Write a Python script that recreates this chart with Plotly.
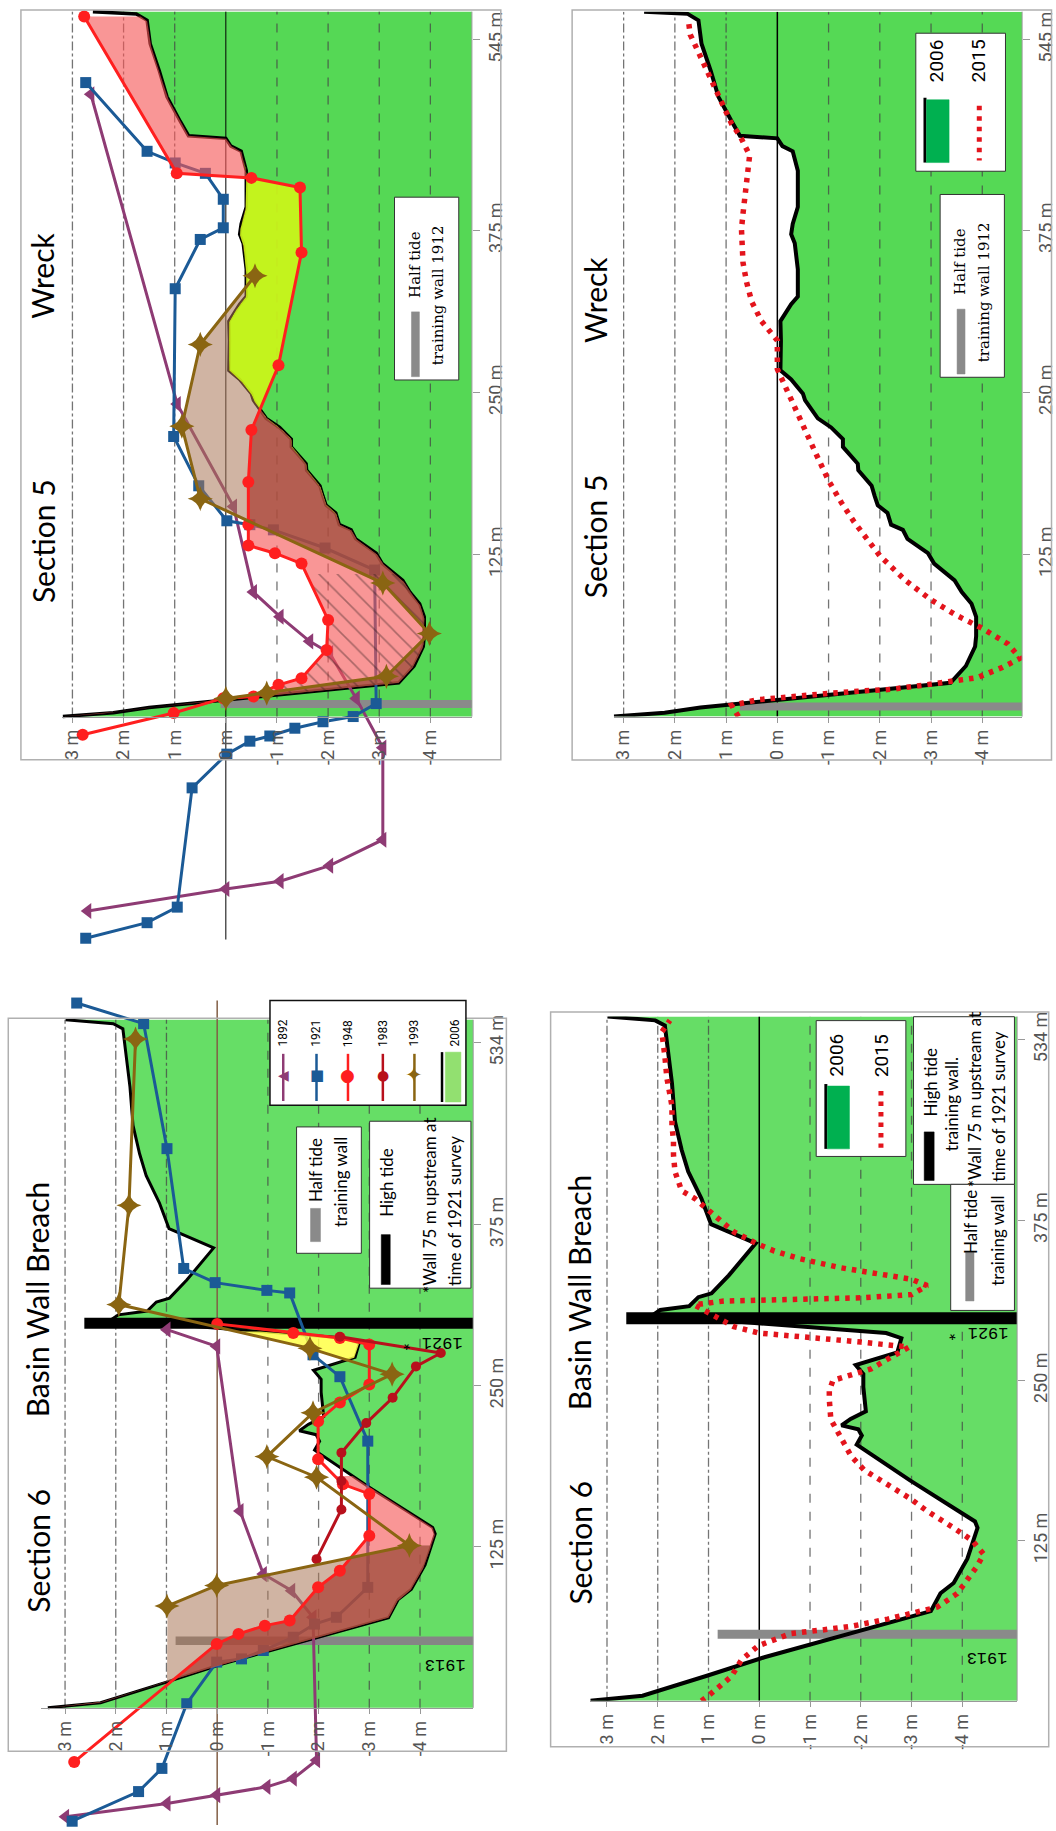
import numpy as np
import plotly.graph_objects as go

W, H = 1056, 1831

# ---------------------------------------------------------------------------
# Section 5 (Wreck) – distance along the section (m) and bed elevation (m)
# ---------------------------------------------------------------------------
S5_DIST_2006 = [0, 3, 7, 13, 26, 39, 54, 62, 77, 87, 96, 105, 118, 126, 137, 144, 148, 157, 163, 170,
                178, 190, 195, 208, 214, 223, 230, 244, 249, 260, 267, 290, 305, 318, 324, 345, 365, 372,
                380, 393, 421, 436, 440, 446, 448, 459, 478, 498, 519, 537, 542, 543.7]
S5_ELEV_2006 = [3.19, 2.2, 1.5, 0.0, -3.38, -3.68, -3.86, -3.88, -3.88, -3.79, -3.6, -3.46, -3.06, -2.94,
                -2.54, -2.45, -2.22, -2.15, -1.96, -1.9, -1.84, -1.58, -1.57, -1.28, -1.28, -1.05, -0.79,
                -0.54, -0.5, -0.27, -0.06, -0.07, -0.06, -0.27, -0.4, -0.4, -0.34, -0.27, -0.3, -0.4, -0.4,
                -0.3, -0.1, 0.0, 0.73, 0.89, 1.15, 1.3, 1.48, 1.54, 1.75, 2.6]

S5_DIST_2015 = [0, 8.6, 13, 15.7, 17.6, 19.5, 21, 24.3, 27, 30, 38, 45, 56, 68, 78, 90, 105, 124, 137, 150,
                165, 182, 203, 225, 248, 268, 290, 298, 305, 320, 335, 350, 365, 376, 388, 403, 418, 433,
                440, 448, 457, 474, 485, 502, 515, 526, 538]
S5_ELEV_2015 = [0.76, 0.89, 0.38, -0.27, -0.92, -1.57, -2.22, -2.87, -3.4, -3.9, -4.4, -4.74, -4.5, -4.0,
                -3.5, -3.0, -2.5, -2.0, -1.75, -1.5, -1.25, -1.0, -0.75, -0.5, -0.25, 0.0, 0.0, 0.15, 0.31,
                0.5, 0.6, 0.67, 0.7, 0.7, 0.67, 0.63, 0.58, 0.54, 0.63, 0.73, 0.89, 1.09, 1.22, 1.41, 1.57,
                1.7, 1.74]

S5_DIST_1892 = [480, 241, 162, 96, 77, 58, 49, 14, -24, -95, -115, -127, -133, -150]
S5_ELEV_1892 = [2.64, 0.95, -0.15, -0.54, -1.06, -1.64, -2.03, -2.55, -3.07, -3.07, -2.03, -1.06, 0.0, 2.7]

S5_DIST_1921 = [489, 436, 427, 419, 399, 377, 368, 330, 216, 178, 151, 148, 144, 130, 113, 10, 0, -4, -9,
                -15, -19, -29, -55, -147, -159, -171]
S5_ELEV_1921 = [2.74, 1.54, 0.99, 0.40, 0.05, 0.05, 0.50, 0.99, 1.02, 0.53, -0.02, -0.47, -0.93, -1.94,
                -2.91, -2.94, -2.49, -1.90, -1.35, -0.86, -0.47, -0.02, 0.66, 0.95, 1.54, 2.74]

S5_DIST_1948 = [540, 419, 415.5, 408, 358, 271, 221, 181, 148, 132, 126, 118, 74.5, 51.4, 29.6, 24.5,
                15.5, 14.2, 2.7, -14]
S5_ELEV_1948 = [2.77, 0.96, -0.50, -1.45, -1.48, -1.03, -0.50, -0.44, -0.44, -0.44, -0.96, -1.48, -2.0,
                -1.97, -1.48, -1.03, -0.54, 0.05, 1.02, 2.8]

S5_DIST_1993 = [340, 287, 224, 168, 103, 64, 31, 18, 14]
S5_ELEV_1993 = [-0.57, 0.50, 0.86, 0.50, -3.07, -3.98, -3.14, -0.8, 0.0]

# ---------------------------------------------------------------------------
# Section 6 (Basin Wall Breach)
# ---------------------------------------------------------------------------
S6_DIST_2006 = [0, 4, 20, 34, 70, 84, 92, 111, 135, 140, 172, 200, 207, 212, 215, 220, 226, 245, 255, 262,
                272, 283, 287, 290, 301, 305, 308, 315, 318, 332, 357, 372, 377, 392, 413, 430, 452, 482,
                527, 531, 534]
S6_ELEV_2006 = [3.34, 2.3, 1.0, -0.1, -3.38, -3.57, -3.83, -4.1, -4.3, -4.25, -2.97, -1.92, -2.02, -1.95,
                -1.62, -1.8, -2.1, -2.05, -2.05, -1.9, -2.72, -2.8, -2.5, -1.5, 2.1, 1.95, 1.38, 1.2, 0.94,
                0.6, 0.07, 0.95, 1.0, 1.14, 1.4, 1.53, 1.66, 1.72, 1.86, 2.05, 2.99]

S6_DIST_2015 = [0, 5, 19, 32, 43, 52.6, 55.2, 58.2, 63.8, 73.2, 83.7, 105, 114.5, 125, 135, 148, 157.7, 169,
                180, 191, 206, 219.6, 235, 242, 250, 254, 259, 268, 276, 280, 283, 287, 292, 302, 309, 312,
                313, 314.5, 317, 324, 329, 333, 338, 345, 351, 356.6, 366, 372, 383, 392, 398, 413, 426,
                437, 449, 464, 473, 486, 503, 512, 522, 531]
S6_ELEV_2015 = [1.14, 0.97, 0.55, 0.35, 0.02, -0.63, -1.22, -1.81, -2.53, -3.51, -3.9, -4.29, -4.42, -4.2,
                -3.83, -3.31, -2.98, -2.53, -2.07, -1.81, -1.61, -1.41, -1.38, -1.38, -1.45, -1.75, -2.2,
                -2.59, -2.95, -2.0, -1.0, 0.0, 0.5, 0.94, 1.28, 0.7, -0.5, -2.0, -3.0, -3.31, -3.0, -2.4,
                -1.6, -0.8, -0.3, 0.04, 0.5, 0.68, 1.0, 1.27, 1.53, 1.66, 1.69, 1.69, 1.72, 1.72, 1.76,
                1.82, 1.86, 1.89, 1.92, 1.76]

S6_DIST_1892 = [293.5, 280.6, 152.8, 103.8, 90.9, 70.3, -40.7, -54.9, -61.3, -67.7, -74.2, -84.5]
S6_ELEV_1892 = [0.99, 0.01, -0.45, -0.91, -1.47, -1.89, -1.96, -1.5, -0.98, 0.01, 0.99, 2.99]

S6_DIST_1921 = [547, 531, 434, 341, 330, 324, 322, 274, 257, 207, 93.5, 70.3, 65, 54.8, 44.5, 38, 35.5,
                3.2, -47, -65, -88]
S6_ELEV_1921 = [2.77, 1.45, 0.99, 0.66, 0.04, -0.98, -1.43, -1.89, -2.42, -2.97, -2.97, -2.35, -1.92,
                -1.5, -0.91, -0.48, 0.01, 0.6, 1.09, 1.55, 2.86]

S6_DIST_1948 = [298, 291, 287, 282, 251, 237, 222.5, 193, 173.5, 166, 133.5, 106.4, 93.5, 67.7, 63.8,
                57.4, 49.6, -42]
S6_ELEV_1948 = [0.0, -1.5, -2.42, -3.0, -3.0, -2.42, -1.99, -1.99, -2.48, -3.0, -3.0, -2.42, -1.99, -1.43,
                -0.94, -0.42, 0.01, 2.82]

S6_DIST_1983 = [288, 275.4, 265, 240.6, 221, 198, 176, 154, 115.4]
S6_ELEV_1983 = [-2.42, -4.41, -3.92, -3.46, -2.94, -2.45, -2.45, -2.45, -1.96]

S6_DIST_1993 = [519, 390, 313, 279, 259, 229, 195, 179, 126, 95, 79]
S6_ELEV_1993 = [1.61, 1.74, 1.94, -1.83, -3.45, -1.89, -0.98, -1.96, -3.79, 0.01, 0.99]

# Axis ticks
ELEV_TICKS = [3, 2, 1, 0, -1, -2, -3, -4]
ELEV_LABELS = ["3 m", "2 m", "1 m", "0 m", "-1 m", "-2 m", "-3 m", "-4 m"]
S5_DIST_TICKS = [125, 250, 375, 522]
S5_DIST_LABELS = ["125 m", "250 m", "375 m", "545 m"]
S6_DIST_TICKS = [125, 250, 375, 516]
S6_DIST_LABELS = ["125 m", "250 m", "375 m", "534 m"]

# Training walls: (distance, crest elevation)
S5_WALL_1912_A = (9.7, 0.1)
S5_WALL_1912_B = (7.8, 0.73)
S6_WALL_HALF = (52.0, 0.82)
S6_WALL_HIGH = (298.5, 2.62)

YEAR_STYLE = {
    "1892": dict(color="#8e3b74", symbol="triangle-left", size=14),
    "1921": dict(color="#1b5a96", symbol="square", size=11),
    "1948": dict(color="#ff1f1f", symbol="circle", size=12),
    "1983": dict(color="#b8101c", symbol="circle", size=10),
    "1993": dict(color="#8a6512", symbol="star-diamond", size=18),
}
RED_2015 = "#e3141c"
DOTS = "4.5px,6px"
GRID = "rgba(70,70,70,0.75)"
PINK = "rgba(245,85,85,0.62)"
TAN = "rgba(170,118,88,0.55)"
DARK = "rgba(140,35,25,0.38)"
LIME = "rgba(205,245,25,0.92)"
YELLOW = "rgba(255,255,70,0.85)"

TICK_FONT = dict(family="Roboto, sans-serif", size=18, color="#555")
TITLE_FONT = "Lato, sans-serif"
SERIF = "DejaVu Serif, serif"
SANS = "Lato, sans-serif"

# Panel geometry in pixels
panels = [
    dict(x3=71.7, kx=51.33, left=61.7, right=472.7, y0=713.5, ky=1.3, dtop=543.7, ext=(0, 960),
         dticks=S5_DIST_TICKS, dlabels=S5_DIST_LABELS, green="#55d855"),
    dict(x3=625.0, kx=51.43, left=615.0, right=1025.0, y0=713.5, ky=1.3, dtop=543.7, ext=None,
         dticks=S5_DIST_TICKS, dlabels=S5_DIST_LABELS, green="#55d955"),
    dict(x3=64.3, kx=50.9, left=40.0, right=474.0, y0=1707.5, ky=1.292, dtop=534.0, ext=(990, 1831),
         dticks=S6_DIST_TICKS, dlabels=S6_DIST_LABELS, green="#66de66"),
    dict(x3=608.3, kx=50.95, left=591.7, right=1020.0, y0=1700.5, ky=1.285, dtop=534.0, ext=None,
         dticks=S6_DIST_TICKS, dlabels=S6_DIST_LABELS, green="#66dd66"),
]

fig = go.Figure()
layout = {}
shapes = []
annotations = []


def px(x):
    return x / W


def py(y):
    return 1 - y / H


for i, p in enumerate(panels, start=1):
    sfx = "" if i == 1 else str(i)
    p["xa"], p["ya"] = "x" + sfx, "y" + sfx
    xr = [3 - (p["left"] - p["x3"]) / p["kx"], 3 - (p["right"] - p["x3"]) / p["kx"]]
    top_px, bot_px = p["ext"] if p["ext"] else (p["y0"] - p["dtop"] * p["ky"], p["y0"])
    yr = [(p["y0"] - bot_px) / p["ky"], (p["y0"] - top_px) / p["ky"]]
    p["xr"], p["yr"] = xr, yr
    layout["xaxis" + sfx] = dict(
        domain=[px(p["left"]), px(p["right"])], range=xr, anchor="free", position=py(p["y0"]),
        tickvals=ELEV_TICKS, ticktext=ELEV_LABELS, tickangle=-90, ticks="outside", ticklen=5,
        tickcolor="#999", showline=True, linecolor="#999", linewidth=1, showgrid=False,
        zeroline=False, tickfont=TICK_FONT, fixedrange=True)
    layout["yaxis" + sfx] = dict(
        domain=[py(bot_px), py(top_px)], range=yr, anchor="free", position=px(p["right"]),
        side="right", tickvals=p["dticks"], ticktext=p["dlabels"], tickangle=-90, ticks="outside",
        ticklen=7, tickcolor="#999", showline=False, showgrid=False, zeroline=False,
        tickfont=TICK_FONT, fixedrange=True)
    # right-hand axis line along the plotting area only
    shapes.append(dict(type="line", xref="paper", yref="paper", x0=px(p["right"]), x1=px(p["right"]),
                       y0=py(p["y0"]), y1=py(p["y0"] - p["dtop"] * p["ky"]),
                       line=dict(color="#999", width=1), layer="above"))

tl, tr, bl, br = panels


def add(p, **kw):
    kw.setdefault("showlegend", False)
    kw.setdefault("hoverinfo", "skip")
    fig.add_trace(go.Scatter(xaxis=p["xa"], yaxis=p["ya"], **kw))


def profile(d, e):
    d = np.asarray(d, float)
    e = np.asarray(e, float)
    o = np.argsort(d, kind="stable")
    return d[o], e[o]


def band(top, base, lo, hi, mode="above", other=None):
    parts = [top[0], base[0], np.linspace(lo, hi, 900)]
    if other is not None:
        parts.append(other[0])
    g = np.concatenate(parts)
    g = np.unique(g[(g >= lo) & (g <= hi)])
    et = np.interp(g, top[0], top[1])
    eb = np.interp(g, base[0], base[1])
    if mode == "above":
        edge = np.maximum(et, eb)
    else:
        edge = np.minimum(et, eb)
    if other is not None:
        eo = np.interp(g, other[0], other[1])
        edge = np.minimum(edge, np.maximum(eo, eb))
    return np.concatenate([edge, eb[::-1]]), np.concatenate([g, g[::-1]])


def draw_base(p, prof06, zero_span, zero_color="black", zero_width=1.0):
    d06, e06 = prof06
    add(p, x=list(e06) + [p["xr"][1], p["xr"][1]], y=list(d06) + [d06[-1], d06[0]],
        mode="lines", fill="toself", fillcolor=p["green"], line=dict(width=0))
    for v in ELEV_TICKS:
        if v == 0:
            continue
        add(p, x=[v, v], y=[0, p["dtop"]], mode="lines",
            line=dict(color=GRID, width=1.3, dash="dashdot" if v > 0 else "dash"))
    add(p, x=[0, 0], y=list(zero_span), mode="lines", line=dict(color=zero_color, width=zero_width))


def draw_wall(p, wall, color, width):
    add(p, x=[wall[1], p["xr"][1]], y=[wall[0], wall[0]], mode="lines",
        line=dict(color=color, width=width))


def draw_series(p, d, e, year, width=3):
    st = YEAR_STYLE[year]
    add(p, x=e, y=d, mode="lines+markers", cliponaxis=False,
        line=dict(color=st["color"], width=width),
        marker=dict(symbol=st["symbol"], size=st["size"], color=st["color"]))


def draw_band(p, poly, color, pattern=None):
    kw = dict(x=poly[0], y=poly[1], mode="lines", fill="toself", fillcolor=color, line=dict(width=0))
    if pattern:
        kw["fillpattern"] = pattern
    add(p, **kw)


S5_06 = profile(S5_DIST_2006, S5_ELEV_2006)
S6_06 = profile(S6_DIST_2006, S6_ELEV_2006)

# ---------------- Section 5, historical surveys ----------------
draw_base(tl, S5_06, (-172, 543.7))
draw_wall(tl, S5_WALL_1912_A, "#8a8a8a", 8)
add(tl, x=S5_ELEV_2006, y=S5_DIST_2006, mode="lines", line=dict(color="black", width=3.5))
draw_series(tl, S5_DIST_1892, S5_ELEV_1892, "1892")
draw_series(tl, S5_DIST_1921, S5_ELEV_1921, "1921")
s5_48 = profile(S5_DIST_1948, S5_ELEV_1948)
s5_93 = profile(S5_DIST_1993, S5_ELEV_1993)
draw_band(tl, band(s5_48, S5_06, 0, 540), PINK)
draw_band(tl, band(s5_48, S5_06, 150, 430, mode="below"), LIME)
draw_band(tl, band(s5_93, S5_06, 14, 340), TAN)
draw_band(tl, band(s5_48, S5_06, 14, 340, other=s5_93), DARK)
draw_band(tl, band(s5_48, S5_06, 12, 110), "rgba(0,0,0,0)",
          pattern=dict(shape="\\", fgcolor="rgba(50,30,30,0.8)", size=13, solidity=0.12))
draw_series(tl, S5_DIST_1948, S5_ELEV_1948, "1948")
draw_series(tl, S5_DIST_1993, S5_ELEV_1993, "1993")

# ---------------- Section 5, 2006 vs 2015 ----------------
draw_base(tr, S5_06, (0, 543.7), zero_width=1.5)
draw_wall(tr, S5_WALL_1912_B, "#8a8a8a", 8)
add(tr, x=S5_ELEV_2006, y=S5_DIST_2006, mode="lines", line=dict(color="black", width=4))
add(tr, x=S5_ELEV_2015, y=S5_DIST_2015, mode="lines", line=dict(color=RED_2015, width=5.5, dash=DOTS))

# ---------------- Section 6, historical surveys ----------------
draw_base(bl, S6_06, (-91, 549), zero_color="rgb(130,95,70)", zero_width=1.5)
draw_wall(bl, S6_WALL_HALF, "#858585", 8.5)
draw_wall(bl, S6_WALL_HIGH, "black", 11)
add(bl, x=S6_ELEV_2006, y=S6_DIST_2006, mode="lines", line=dict(color="black", width=3))
draw_series(bl, S6_DIST_1892, S6_ELEV_1892, "1892")
draw_series(bl, S6_DIST_1921, S6_ELEV_1921, "1921")
s6_48 = profile(S6_DIST_1948, S6_ELEV_1948)
s6_93 = profile(S6_DIST_1993, S6_ELEV_1993)
draw_band(bl, band(s6_48, S6_06, 0, 180), PINK)
draw_band(bl, band(s6_93, S6_06, 0, 126), TAN)
draw_band(bl, band(s6_48, S6_06, 0, 126, other=s6_93), DARK)
draw_band(bl, band(s6_93, S6_06, 262, 292), YELLOW)
draw_series(bl, S6_DIST_1948, S6_ELEV_1948, "1948")
draw_series(bl, S6_DIST_1983, S6_ELEV_1983, "1983")
draw_series(bl, S6_DIST_1993, S6_ELEV_1993, "1993")

# ---------------- Section 6, 2006 vs 2015 ----------------
draw_base(br, S6_06, (0, 534), zero_width=1.5)
draw_wall(br, S6_WALL_HALF, "#8a8a8a", 9)
draw_wall(br, S6_WALL_HIGH, "black", 12)
add(br, x=S6_ELEV_2006, y=S6_DIST_2006, mode="lines", line=dict(color="black", width=4))
add(br, x=S6_ELEV_2015, y=S6_DIST_2015, mode="lines", line=dict(color=RED_2015, width=5.5, dash=DOTS))


# ---------------- frames, keys and labels ----------------
def rect(x0, y0, x1, y1, fill="white", line="#222", lw=1.2):
    shapes.append(dict(type="rect", xref="paper", yref="paper", x0=px(x0), x1=px(x1), y0=py(y1), y1=py(y0),
                       fillcolor=fill, line=dict(color=line, width=lw), layer="above"))


def vline(x, y0, y1, color, width, dash=None):
    ln = dict(color=color, width=width)
    if dash:
        ln["dash"] = dash
    shapes.append(dict(type="line", xref="paper", yref="paper", x0=px(x), x1=px(x), y0=py(y0), y1=py(y1),
                       line=ln, layer="above"))


def text(x, y, s, size, family, color="black", angle=-90):
    annotations.append(dict(x=px(x), y=py(y), xref="paper", yref="paper", text=s, showarrow=False,
                            textangle=angle, xanchor="center", yanchor="middle",
                            font=dict(family=family, size=size, color=color)))


# outer panel frames
for x0, y0, x1, y1 in [(20, 5, 501.7, 756.7), (573.3, 5, 1054.5, 757),
                       (7.3, 1016, 507.3, 1751), (551.7, 1009.7, 1051.7, 1746.5)]:
    rect(x0, y0, x1, y1, fill="rgba(0,0,0,0)", line="#b0b0b0", lw=1.5)

# panel titles
text(41.7, 538, "Section 5", 30, TITLE_FONT)
text(41.7, 272, "Wreck", 30, TITLE_FONT)
text(596, 533, "Section 5", 30, TITLE_FONT)
text(596, 296, "Wreck", 30, TITLE_FONT)
text(37, 1550, "Section 6", 30, TITLE_FONT)
text(37, 1298, "Basin Wall Breach", 30, TITLE_FONT)
text(581, 1542, "Section 6", 30, TITLE_FONT)
text(581, 1291, "Basin Wall Breach", 30, TITLE_FONT)

# half tide training wall 1912 keys (Section 5)
for bx, by in [(395, 192.7), (942.7, 190)]:
    rect(bx, by, bx + 64.5, by + 183.3, line="#333", lw=1)
    rect(bx + 17, by + 115, bx + 25, by + 180, fill="#8a8a8a", line="#8a8a8a", lw=0.5)
    text(bx + 20.5, by + 67, "Half tide", 15, SERIF)
    text(bx + 44, by + 98, "training wall 1912", 15, SERIF)

# 2006 / 2015 key (Section 5)
rect(918.3, 28.3, 1008.3, 166.7, line="#333", lw=1)
vline(927.5, 93, 158, "black", 3)
rect(929, 95, 951.7, 158, fill="#00b050", line="#00b050", lw=0.5)
text(939, 56, "2006", 19, "Roboto, sans-serif")
text(982, 56, "2015", 19, "Roboto, sans-serif")
vline(982, 101, 156, RED_2015, 5, dash=DOTS)

# year key (Section 6, surveys)
rect(270, 998.3, 466.7, 1103.3, line="#111", lw=1.5)
key_cols = [("1892", 283.3, "\u25C0", 14), ("1921", 316.7, "\u25A0", 15), ("1948", 348.3, "\u25CF", 17),
            ("1983", 383.3, "\u25CF", 14), ("1993", 415.0, "\u2726", 21)]
for year, cx, glyph, gs in key_cols:
    col = YEAR_STYLE[year]["color"]
    vline(cx, 1051.7, 1099, col, 2.5)
    text(cx, 1031, year, 12, "Roboto, sans-serif")
    text(cx, 1073, glyph, gs, "DejaVu Sans, sans-serif", color=col, angle=0)
vline(442.7, 1050, 1100, "black", 2.5)
rect(446, 1050, 461.7, 1100, fill="#92e070", line="#92e070", lw=0.5)
text(456, 1031, "2006", 12, "Roboto, sans-serif")

# half tide / high tide keys (Section 6, surveys)
rect(296.7, 1125, 361.7, 1251.7, line="#333", lw=1)
rect(310.7, 1206.7, 320.7, 1240, fill="#8a8a8a", line="#8a8a8a", lw=0.5)
text(316.5, 1168, "Half tide", 17, SANS)
text(341.5, 1180, "training wall", 17, SANS)
rect(370, 1119.3, 471.7, 1286.7, line="#333", lw=1)
rect(381.7, 1233, 390.7, 1283, fill="black", line="black", lw=0.5)
text(387.5, 1181, "High tide", 17, SANS)
text(430, 1203, "*Wall 75 m upstream at", 17, SANS)
text(455, 1209, "time of 1921 survey", 17, SANS)

# 2006 / 2015 key (Section 6)
rect(818.3, 1018.4, 908.3, 1154.6, line="#333", lw=1)
vline(828, 1082, 1147, "black", 3)
rect(829.5, 1084, 851.7, 1147, fill="#00b050", line="#00b050", lw=0.5)
text(838.5, 1053, "2006", 19, "Roboto, sans-serif")
text(883.3, 1053, "2015", 19, "Roboto, sans-serif")
vline(883.3, 1089, 1146, RED_2015, 5, dash=DOTS)

# high tide / half tide keys (Section 6)
rect(916, 1014.5, 1017.3, 1182.6, line="#333", lw=1)
rect(926.7, 1130, 936.7, 1178.7, fill="black", line="black", lw=0.5)
text(933, 1080, "High tide", 17, SANS)
text(955, 1102, "training wall.", 17, SANS)
text(977, 1097, "*Wall 75 m upstream at", 17, SANS)
text(1001.5, 1105, "time of 1921 survey", 17, SANS)
rect(953.3, 1182.6, 1017.3, 1309, line="#333", lw=1)
rect(968.3, 1251, 976.7, 1299.5, fill="#8a8a8a", line="#8a8a8a", lw=0.5)
text(973, 1220, "Half tide", 17, SANS)
text(1000, 1239, "training wall", 17, SANS)

# survey-year labels for the walls
for x13, y13, x21, y21 in [(445.5, 1664, 433, 1341), (990, 1657, 981, 1331)]:
    text(x13, y13, "1913", 17, "Liberation Mono, monospace", angle=180)
    text(x21, y21, "1921 *", 17, "Liberation Mono, monospace", angle=180)

fig.update_layout(
    width=W, height=H, margin=dict(l=0, r=0, t=0, b=0),
    paper_bgcolor="white", plot_bgcolor="white", showlegend=False,
    shapes=shapes, annotations=annotations, **layout)

fig.write_html("out.html")
